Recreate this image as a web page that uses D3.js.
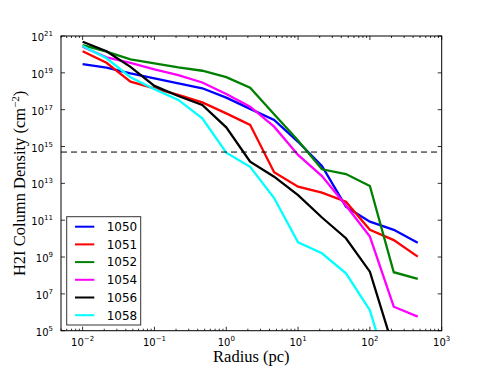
<!DOCTYPE html>
<meta charset="utf-8">
<style>
body { margin: 0; background: #fff; }

.line {
  fill: none;
  stroke-width: 2.3px;
  stroke-linejoin: miter;
}

.tick-label {
  font-family: "DejaVu Sans", sans-serif;
  font-size: 10px;
  fill: #000;
}

.axis-title {
  font-family: "Liberation Serif", "DejaVu Serif", serif;
  font-size: 16.5px;
  fill: #000;
}

.legend text {
  font-family: "DejaVu Sans", sans-serif;
  font-size: 12px;
}
</style>
<svg width="491" height="368"></svg>
<script src="https://d3js.org/d3.v7.min.js"></script>
<script>

// radius bins (pc)
var radius = [0.01, 0.0215, 0.0464, 0.1, 0.215, 0.464, 1, 2.15, 4.64, 10, 21.5, 46.4, 100, 215, 464];

// column densities (cm^-2)
var n1050 = [3.0e19, 1.9e19, 9.3e18, 5.0e18, 2.7e18, 1.45e18, 4.5e17, 1.1e17, 2.75e16, 1.8e15, 8.9e13, 5.4e11, 8.3e10, 3.0e10, 6.0e9];
var n1051 = [1.5e20, 3.5e19, 3.3e18, 1.45e18, 6.3e17, 2.5e17, 6.3e16, 1.5e16, 4.0e13, 6.6e12, 3.1e12, 1.0e12, 3.0e10, 8.3e9, 1.05e9];
var n1052 = [3.2e20, 1.4e20, 5.4e19, 3.3e19, 2.0e19, 1.3e19, 5.8e18, 1.55e18, 5.6e16, 2.1e15, 5.8e13, 3.2e13, 7.2e12, 1.5e8, 6.5e7];
var n1054 = [2.6e20, 6.9e19, 3.5e19, 1.55e19, 7.6e18, 3.0e18, 7.1e17, 1.45e17, 1.2e16, 3.5e14, 2.5e13, 6.3e11, 1.3e10, 2.0e6, 5.8e5];
var n1056 = [4.9e20, 1.5e20, 2.1e19, 1.95e18, 5.5e17, 1.8e17, 1.1e16, 1.5e14, 2.3e13, 2.3e12, 1.4e11, 1.05e10, 1.6e8, 1.0e4, 1.0e3];
var n1058 = [2.9e20, 6.2e19, 5.8e18, 1.3e18, 3.4e17, 3.4e16, 4.6e14, 7.9e13, 1.6e12, 6.3e9, 1.6e9, 1.3e8, 1.3e6, 63, 10];

var names = ["1050", "1051", "1052", "1054", "1056", "1058"];
var colors = ["#0000ff", "#ff0000", "#008000", "#ff00ff", "#000000", "#00ffff"];
var threshold = 5e14;

var xTicks = [1e-2, 1e-1, 1e0, 1e1, 1e2, 1e3];
var xExp = ["\u22122", "\u22121", "0", "1", "2", "3"];
var yTicks = [1e5, 1e7, 1e9, 1e11, 1e13, 1e15, 1e17, 1e19, 1e21];
var yExp = ["5", "7", "9", "11", "13", "15", "17", "19", "21"];

var svg = d3.select("svg"),
    margin = {top: 36, right: 49.3, bottom: 37.3, left: 61},
    width = svg.attr("width") - margin.left - margin.right,
    height = svg.attr("height") - margin.top - margin.bottom,
    g = svg.append("g").attr("transform", "translate(" + margin.left + "," + margin.top + ")");

var x = d3.scaleLog().domain([0.005, 1000]).range([0, width]),
    y = d3.scaleLog().domain([1e5, 1e21]).range([height, 0]);

var series = [n1050, n1051, n1052, n1054, n1056, n1058].map(function(vals, i) {
  return {
    id: names[i],
    color: colors[i],
    values: vals.map(function(v, j) { return {r: radius[j], n: v}; })
  };
});

g.append("clipPath").attr("id", "clip")
  .append("rect").attr("width", width).attr("height", height);

var line = d3.line()
    .x(function(d) { return x(d.r); })
    .y(function(d) { return y(d.n); });

var plot = g.append("g").attr("clip-path", "url(#clip)");

plot.selectAll(".line")
  .data(series)
  .enter().append("path")
    .attr("class", "line")
    .attr("d", function(d) { return line(d.values); })
    .style("stroke", function(d) { return d.color; });

// dashed threshold
plot.append("line")
    .attr("x1", 0).attr("x2", width)
    .attr("y1", y(threshold)).attr("y2", y(threshold))
    .attr("stroke", "#000")
    .attr("stroke-width", 1)
    .attr("stroke-dasharray", "6,4");

// ticks (inside, on all four sides)
var minor = [];
[-3, -2, -1, 0, 1, 2].forEach(function(e) {
  for (var k = 2; k <= 9; k++) {
    var v = k * Math.pow(10, e);
    if (v >= 0.005 && v <= 1000) minor.push(v);
  }
});

var ticks = g.append("g").attr("stroke", "#000").attr("stroke-width", 0.8);

xTicks.forEach(function(t) {
  ticks.append("line").attr("x1", x(t)).attr("x2", x(t)).attr("y1", height).attr("y2", height - 4);
  ticks.append("line").attr("x1", x(t)).attr("x2", x(t)).attr("y1", 0).attr("y2", 4);
});
minor.forEach(function(t) {
  ticks.append("line").attr("x1", x(t)).attr("x2", x(t)).attr("y1", height).attr("y2", height - 2);
  ticks.append("line").attr("x1", x(t)).attr("x2", x(t)).attr("y1", 0).attr("y2", 2);
});
yTicks.forEach(function(t) {
  ticks.append("line").attr("x1", 0).attr("x2", 4).attr("y1", y(t)).attr("y2", y(t));
  ticks.append("line").attr("x1", width).attr("x2", width - 4).attr("y1", y(t)).attr("y2", y(t));
});

// frame
g.append("rect")
    .attr("width", width)
    .attr("height", height)
    .attr("fill", "none")
    .attr("stroke", "#000")
    .attr("stroke-width", 1);

// tick labels
xTicks.forEach(function(t, i) {
  var lab = g.append("text")
      .attr("class", "tick-label")
      .attr("x", x(t))
      .attr("y", height + 15.5)
      .attr("text-anchor", "middle");
  lab.append("tspan").text("10");
  lab.append("tspan").attr("dy", -5).style("font-size", "7px").text(xExp[i]);
});

yTicks.forEach(function(t, i) {
  var lab = g.append("text")
      .attr("class", "tick-label")
      .attr("x", -8)
      .attr("y", y(t) + 5)
      .attr("text-anchor", "end");
  lab.append("tspan").text("10");
  lab.append("tspan").attr("dy", -5).style("font-size", "7px").text(yExp[i]);
});

// axis titles
g.append("text")
    .attr("class", "axis-title")
    .attr("x", width / 2)
    .attr("y", height + 31.5)
    .attr("text-anchor", "middle")
    .text("Radius (pc)");

var yt = g.append("text")
    .attr("class", "axis-title")
    .attr("transform", "translate(" + (25 - margin.left) + "," + (height / 2) + ") rotate(-90)")
    .attr("text-anchor", "middle");
yt.append("tspan").text("H2I Column Density (cm");
yt.append("tspan").attr("dy", -6).style("font-size", "11px").text("\u22122");
yt.append("tspan").attr("dy", 6).text(")");

// legend
var legend = svg.append("g").attr("class", "legend")
    .attr("transform", "translate(66.7,216.7)");

legend.append("rect")
    .attr("width", 74)
    .attr("height", 108.3)
    .attr("fill", "#fff")
    .attr("stroke", "#333")
    .attr("stroke-width", 1);

var item = legend.selectAll(".item")
  .data(series)
  .enter().append("g")
    .attr("class", "item")
    .attr("transform", function(d, i) { return "translate(0," + (10 + i * 17.7) + ")"; });

item.append("line")
    .attr("x1", 8.3).attr("x2", 27.6)
    .attr("stroke-width", 2)
    .attr("stroke", function(d) { return d.color; });

item.append("text")
    .attr("x", 40)
    .attr("dy", "0.36em")
    .text(function(d) { return d.id; });

</script>
